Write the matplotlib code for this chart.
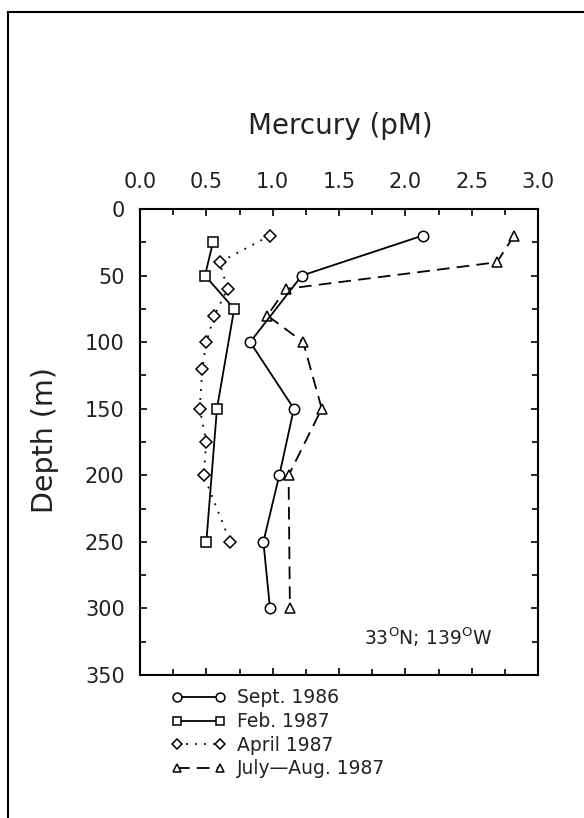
import matplotlib
matplotlib.use("Agg")
import matplotlib.pyplot as plt
from matplotlib.lines import Line2D
from matplotlib.ticker import MultipleLocator

plt.rcParams['font.family'] = ['DejaVu Sans']
plt.rcParams['mathtext.fontset'] = 'custom'
plt.rcParams['mathtext.rm'] = 'DejaVu Sans'

# Data
sept_depth = [20, 50, 100, 150, 200, 250, 300]
sept_hg = [2.13, 1.22, 0.83, 1.16, 1.05, 0.93, 0.98]

feb_depth = [25, 50, 75, 150, 250]
feb_hg = [0.55, 0.49, 0.71, 0.58, 0.50]

april_depth = [20, 40, 60, 80, 100, 120, 150, 175, 200, 250]
april_hg = [0.98, 0.60, 0.66, 0.56, 0.50, 0.47, 0.45, 0.50, 0.48, 0.68]

july_depth = [20, 40, 60, 80, 100, 150, 200, 300]
july_hg = [2.82, 2.69, 1.10, 0.96, 1.23, 1.37, 1.12, 1.13]

labels = ['Sept. 1986', 'Feb. 1987', 'April 1987', 'July\u2014Aug. 1987']

fig = plt.figure(figsize=(5.84, 8.18), dpi=100)
fig.patch.set_facecolor('white')

# outer frame (left and top visible)
fig.add_artist(Line2D([8/584, 8/584], [0, 1 - 12/818], transform=fig.transFigure,
                      color='black', lw=1.5))
fig.add_artist(Line2D([8/584, 1], [1 - 12/818, 1 - 12/818], transform=fig.transFigure,
                      color='black', lw=1.5))

ax = fig.add_axes([140/584, 1 - 675/818, 398/584, 466/818])

ms = 7.5
mew = 1.1
lw = 1.3
ax.plot(sept_hg, sept_depth, color='black', lw=lw, marker='o', ms=ms, mfc='white',
        mec='black', mew=mew, label=labels[0], zorder=4)
ax.plot(feb_hg, feb_depth, color='black', lw=lw, marker='s', ms=ms, mfc='white',
        mec='black', mew=mew, label=labels[1], zorder=4)
ax.plot(april_hg, april_depth, color='black', lw=1.3, linestyle=(0, (1, 4)), marker='D',
        ms=6, mfc='white', mec='black', mew=mew, label=labels[2], zorder=3)
ax.plot(july_hg, july_depth, color='black', lw=lw, linestyle=(0, (7, 4)), marker='^',
        ms=ms, mfc='white', mec='black', mew=mew, label=labels[3], zorder=3)

ax.set_xlim(0, 3.0)
ax.set_ylim(350, 0)
ax.xaxis.set_major_locator(MultipleLocator(0.5))
ax.xaxis.set_minor_locator(MultipleLocator(0.25))
ax.yaxis.set_major_locator(MultipleLocator(50))
ax.yaxis.set_minor_locator(MultipleLocator(25))
ax.xaxis.set_major_formatter(plt.FuncFormatter(lambda v, p: f'{v:.1f}'))
ax.yaxis.set_major_formatter(plt.FuncFormatter(lambda v, p: f'{v:.0f}'))
ax.xaxis.tick_top()
ax.tick_params(axis='both', which='both', direction='in', top=True, bottom=True,
               left=True, right=True, labeltop=True, labelbottom=False,
               width=1.2, colors='black')
ax.tick_params(axis='both', which='major', length=5, labelsize=15, labelcolor='#222222')
ax.tick_params(axis='both', which='minor', length=4)
ax.tick_params(axis='x', pad=12)
ax.tick_params(axis='y', pad=11)
for s in ax.spines.values():
    s.set_linewidth(1.5)

fig.text(340/584, 1 - 126/818, 'Mercury (pM)', ha='center', va='center', fontsize=20,
         color='#222222')
fig.text(45/584, 1 - 440/818, 'Depth (m)', ha='center', va='center', fontsize=20.5,
         rotation=90, color='#222222')

ax.text(0.884, 0.082, r'33$^{\mathrm{O}}$N; 139$^{\mathrm{O}}$W', transform=ax.transAxes,
        ha='right', va='center', fontsize=13.5, color='#222222')

leg = fig.legend(loc='upper left', bbox_to_anchor=(162/584, 1 - 679/818), frameon=False,
                 numpoints=2, handlelength=2.9, handletextpad=0.6, labelspacing=0.25,
                 fontsize=13.5, borderpad=0, markerscale=0.85, labelcolor='#222222')

fig.savefig('out.png', dpi=100, facecolor='white')
